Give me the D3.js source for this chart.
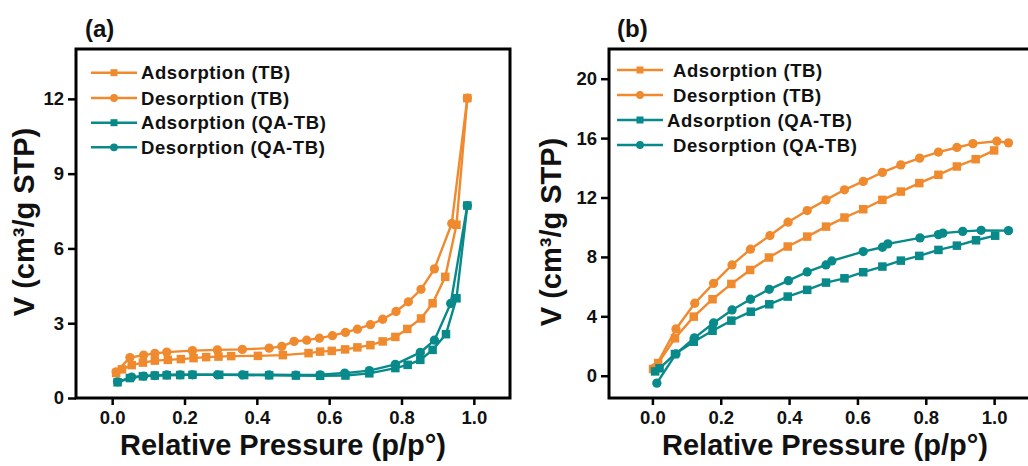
<!DOCTYPE html>
<html lang="en">
<head>
    <meta charset="UTF-8">
    <title>Isotherms TB / QA-TB</title>
    <script src="https://d3js.org/d3.v7.min.js"></script>
    <style>
        body { margin: 0; background: #fff; }
        svg { display: block; font-family: "Liberation Sans", Arial, sans-serif; font-weight: bold; }
    </style>
</head>
<body>
    <svg width="1028" height="466"></svg>
    <script>
        // ---- data ----
        const seriesNames = ["Adsorption (TB)", "Desorption (TB)", "Adsorption (QA-TB)", "Desorption (QA-TB)"];
        const xTicks = [0, 0.2, 0.4, 0.6, 0.8, 1.0];
        const yTicksA = [0, 3, 6, 9, 12];
        const yTicksB = [0, 4, 8, 12, 16, 20];

        // panel (a)
        const aTbAdsP = [0.011, 0.027, 0.054, 0.085, 0.118, 0.154, 0.19, 0.225, 0.26, 0.294, 0.329, 0.403, 0.472, 0.543, 0.575, 0.607, 0.644, 0.678, 0.714, 0.748, 0.783, 0.816, 0.854, 0.886, 0.921, 0.952, 0.982];
        const aTbAdsV = [1.0, 1.15, 1.32, 1.42, 1.5, 1.53, 1.56, 1.6, 1.64, 1.66, 1.68, 1.69, 1.72, 1.8, 1.86, 1.89, 1.95, 2.03, 2.12, 2.27, 2.45, 2.77, 3.19, 3.8, 4.86, 6.95, 12.03];
        const aTbDesP = [0.011, 0.049, 0.087, 0.118, 0.151, 0.222, 0.291, 0.36, 0.434, 0.469, 0.503, 0.538, 0.573, 0.609, 0.645, 0.678, 0.714, 0.748, 0.785, 0.819, 0.854, 0.891, 0.939, 0.982];
        const aTbDesV = [1.05, 1.62, 1.72, 1.79, 1.84, 1.9, 1.93, 1.95, 2.0, 2.07, 2.27, 2.32, 2.4, 2.5, 2.63, 2.76, 2.94, 3.16, 3.47, 3.86, 4.36, 5.18, 7.0, 12.03];
        const aQaAdsP = [0.015, 0.049, 0.085, 0.118, 0.151, 0.188, 0.222, 0.296, 0.365, 0.434, 0.508, 0.575, 0.645, 0.711, 0.783, 0.817, 0.852, 0.886, 0.923, 0.952, 0.982];
        const aQaAdsV = [0.63, 0.8, 0.87, 0.9, 0.91, 0.92, 0.93, 0.93, 0.92, 0.91, 0.9, 0.89, 0.9, 0.99, 1.2, 1.33, 1.53, 1.93, 2.56, 4.0, 7.72];
        const aQaDesP = [0.015, 0.054, 0.087, 0.118, 0.151, 0.188, 0.222, 0.291, 0.36, 0.434, 0.508, 0.575, 0.643, 0.711, 0.783, 0.852, 0.891, 0.936, 0.982];
        const aQaDesV = [0.65, 0.84, 0.88, 0.9, 0.93, 0.93, 0.93, 0.93, 0.93, 0.93, 0.92, 0.93, 1.0, 1.1, 1.35, 1.83, 2.32, 3.79, 7.72];

        // panel (b)
        const bTbAdsP = [0.002, 0.017, 0.066, 0.121, 0.176, 0.231, 0.286, 0.341, 0.396, 0.453, 0.508, 0.562, 0.617, 0.673, 0.727, 0.781, 0.837, 0.891, 0.946, 1.0];
        const bTbAdsV = [0.45, 0.85, 2.52, 3.98, 5.15, 6.18, 7.12, 7.96, 8.7, 9.37, 10.04, 10.65, 11.21, 11.84, 12.4, 12.97, 13.53, 14.09, 14.58, 15.17];
        const bTbDesP = [0.008, 0.069, 0.124, 0.179, 0.233, 0.287, 0.344, 0.397, 0.453, 0.508, 0.562, 0.617, 0.673, 0.727, 0.782, 0.837, 0.891, 0.938, 1.008, 1.042];
        const bTbDesV = [0.55, 3.15, 4.88, 6.22, 7.46, 8.52, 9.44, 10.34, 11.12, 11.84, 12.52, 13.08, 13.69, 14.2, 14.65, 15.06, 15.37, 15.63, 15.79, 15.68];
        const bQaAdsP = [0.008, 0.021, 0.066, 0.121, 0.176, 0.231, 0.288, 0.342, 0.396, 0.453, 0.508, 0.562, 0.617, 0.673, 0.727, 0.781, 0.837, 0.891, 0.947, 1.003];
        const bQaAdsV = [0.29, 0.5, 1.46, 2.29, 3.03, 3.71, 4.31, 4.81, 5.33, 5.78, 6.27, 6.56, 6.97, 7.35, 7.75, 8.07, 8.47, 8.76, 9.12, 9.43];
        const bQaDesP = [0.013, 0.069, 0.123, 0.179, 0.233, 0.287, 0.342, 0.398, 0.453, 0.508, 0.525, 0.617, 0.673, 0.689, 0.783, 0.837, 0.85, 0.908, 0.962, 1.042];
        const bQaDesV = [-0.5, 1.47, 2.55, 3.55, 4.43, 5.15, 5.82, 6.4, 6.99, 7.46, 7.73, 8.36, 8.65, 8.88, 9.28, 9.5, 9.6, 9.72, 9.79, 9.77];

        const orange = "#F08A2E", teal = "#08898A";
        const colors = [orange, orange, teal, teal];
        const shapes = ["square", "circle", "square", "circle"];

        const zip = (p, v) => p.map((d, i) => ({ p: d, v: v[i] }));

        const panels = [
            {
                label: "(a)", labelX: 85, labelY: 37,
                box: { l: 76, t: 49, r: 510, b: 398 },
                xDomain: [-0.1, 1.1], yDomain: [0, 14], yTicks: yTicksA,
                xTitleX: 283, yTitleX: 34, yTitleY: 222,
                legend: { x1: 91, x2: 137, textX: [141, 141, 141, 141], rows: [72.7, 98, 122.7, 147.3] },
                series: [zip(aTbAdsP, aTbAdsV), zip(aTbDesP, aTbDesV), zip(aQaAdsP, aQaAdsV), zip(aQaDesP, aQaDesV)]
            },
            {
                label: "(b)", labelX: 617, labelY: 37,
                box: { l: 609, t: 49, r: 1043, b: 398 },
                xDomain: [-0.127, 1.143], yDomain: [-1.5, 22], yTicks: yTicksB,
                xTitleX: 825, yTitleX: 561, yTitleY: 232,
                legend: { x1: 617, x2: 663, textX: [673, 673, 667, 673], rows: [70, 95, 120, 145] },
                series: [zip(bTbAdsP, bTbAdsV), zip(bTbDesP, bTbDesV), zip(bQaAdsP, bQaAdsV), zip(bQaDesP, bQaDesV)]
            }
        ];

        const svg = d3.select("svg");

        function drawMarker(g, shape, x, y, size, color) {
            if (shape === "square") {
                g.append("rect").attr("x", x - size / 2).attr("y", y - size / 2)
                    .attr("width", size).attr("height", size).attr("fill", color);
            } else {
                g.append("circle").attr("cx", x).attr("cy", y).attr("r", size / 2 + 0.4).attr("fill", color);
            }
        }

        panels.forEach(pn => {
            const g = svg.append("g");
            const x = d3.scaleLinear().domain(pn.xDomain).range([pn.box.l, pn.box.r]);
            const y = d3.scaleLinear().domain(pn.yDomain).range([pn.box.b, pn.box.t]);

            // axes
            const xAxis = g.append("g").attr("transform", `translate(0,${pn.box.b})`)
                .call(d3.axisBottom(x).tickValues(xTicks).tickFormat(d3.format(".1f")).tickSize(7).tickPadding(6));
            const yAxis = g.append("g").attr("transform", `translate(${pn.box.l},0)`)
                .call(d3.axisLeft(y).tickValues(pn.yTicks).tickFormat(d3.format("d")).tickSize(8).tickPadding(4));
            [xAxis, yAxis].forEach(ax => {
                ax.select(".domain").remove();
                ax.selectAll(".tick line").attr("stroke", "#000").attr("stroke-width", 2.5);
                ax.selectAll(".tick text").attr("fill", "#111").style("font-size", "18.5px").style("font-weight", "bold")
                    .style("font-family", "'Liberation Sans', Arial, sans-serif");
            });

            // frame
            g.append("rect").attr("x", pn.box.l).attr("y", pn.box.t)
                .attr("width", pn.box.r - pn.box.l).attr("height", pn.box.b - pn.box.t)
                .attr("fill", "none").attr("stroke", "#000").attr("stroke-width", 3);

            // series
            const line = d3.line().x(d => x(d.p)).y(d => y(d.v));
            pn.series.forEach((data, i) => {
                const sg = g.append("g");
                sg.append("path").datum(data).attr("d", line)
                    .attr("fill", "none").attr("stroke", colors[i]).attr("stroke-width", 2.4);
                data.forEach(d => drawMarker(sg, shapes[i], x(d.p), y(d.v), 8.5, colors[i]));
            });

            // legend
            const lg = g.append("g");
            seriesNames.forEach((name, i) => {
                const ry = pn.legend.rows[i];
                lg.append("line").attr("x1", pn.legend.x1).attr("x2", pn.legend.x2)
                    .attr("y1", ry).attr("y2", ry).attr("stroke", colors[i]).attr("stroke-width", 2.4);
                drawMarker(lg, shapes[i], (pn.legend.x1 + pn.legend.x2) / 2, ry, 7, colors[i]);
                lg.append("text").attr("x", pn.legend.textX[i]).attr("y", ry + 6.5)
                    .attr("fill", "#111").style("font-size", "18.5px").style("letter-spacing", "0.6px")
                    .text(name);
            });

            // titles
            g.append("text").attr("x", pn.xTitleX).attr("y", 455).attr("text-anchor", "middle")
                .attr("fill", "#111").style("font-size", "29px").text("Relative Pressure (p/p°)");
            g.append("text").attr("transform", `translate(${pn.yTitleX},${pn.yTitleY}) rotate(-90)`)
                .attr("text-anchor", "middle").attr("fill", "#111").style("font-size", "29px")
                .text("V (cm³/g STP)");
            g.append("text").attr("x", pn.labelX).attr("y", pn.labelY)
                .attr("fill", "#111").style("font-size", "24px").text(pn.label);
        });
    </script>
</body>
</html>
